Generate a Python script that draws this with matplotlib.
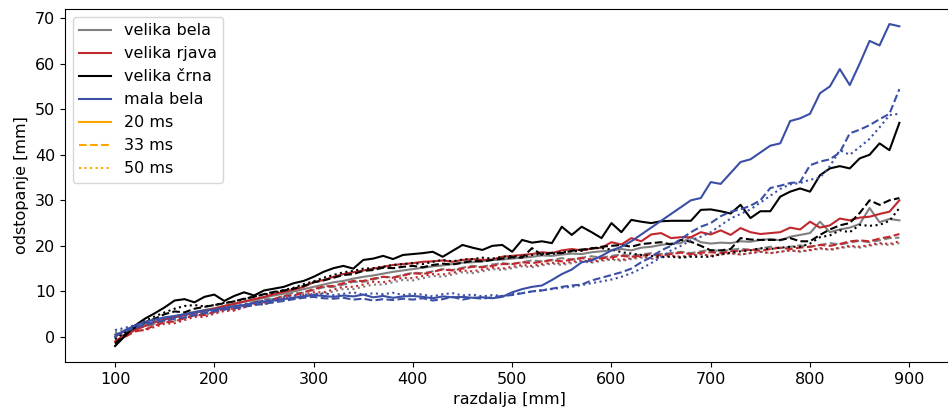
import matplotlib
matplotlib.use("Agg")
import matplotlib.pyplot as plt
from matplotlib.lines import Line2D

razdalja = list(range(100, 900, 10))

# velika bela (grey)
bela_20 = [0.5, 1.2, 2.0, 2.8, 3.4, 4.0, 4.5, 5.0, 5.5, 5.9,
           6.3, 6.8, 7.2, 7.7, 8.1, 8.6, 9.1, 9.5, 10.0, 10.5,
           11.0, 11.5, 12.0, 12.3, 12.8, 13.2, 13.5, 13.9, 14.3, 14.6,
           14.9, 15.2, 15.5, 15.7, 16.0, 16.3, 16.4, 16.6, 16.9, 17.0,
           17.2, 17.4, 17.6, 17.9, 17.8, 18.1, 18.3, 18.2, 18.6, 18.8,
           19.0, 19.3, 19.0, 19.6, 19.8, 20.2, 20.5, 20.6, 21.9, 20.8,
           20.5, 20.7, 20.6, 21.0, 20.9, 21.3, 21.5, 21.2, 22.0, 22.4,
           22.8, 25.3, 23.0, 23.6, 24.0, 24.8, 28.3, 25.2, 25.9, 25.6]
bela_33 = [0.2, 1.0, 1.6, 2.5, 2.7, 3.4, 4.1, 4.2, 4.8, 5.5,
           5.6, 6.2, 6.9, 6.9, 7.6, 8.3, 8.3, 9.0, 9.7, 9.7,
           10.3, 10.9, 11.0, 11.5, 12.1, 12.1, 12.6, 13.2, 13.1, 13.6,
           14.1, 14.0, 14.4, 14.9, 14.7, 15.2, 15.6, 15.4, 15.9, 16.2,
           16.0, 16.4, 16.8, 16.6, 16.9, 17.3, 17.0, 17.4, 17.7, 17.4,
           17.8, 18.1, 17.8, 18.1, 18.4, 18.2, 18.4, 18.7, 18.4, 18.8,
           19.1, 18.8, 19.1, 19.4, 19.1, 19.4, 19.8, 19.5, 19.8, 20.1,
           19.8, 20.2, 20.6, 20.3, 20.7, 21.1, 20.8, 21.2, 21.7, 21.8]
bela_50 = [1.0, 1.5, 2.2, 2.3, 2.9, 3.5, 3.6, 4.1, 4.7, 4.8,
           5.3, 5.9, 5.9, 6.5, 7.1, 7.1, 7.7, 8.3, 8.3, 8.9,
           9.4, 9.4, 10.0, 10.5, 10.5, 11.0, 11.5, 11.5, 12.0, 12.5,
           12.4, 12.9, 13.4, 13.2, 13.7, 14.2, 14.0, 14.4, 14.9, 14.7,
           15.1, 15.5, 15.3, 15.7, 16.1, 15.8, 16.2, 16.6, 16.3, 16.7,
           17.0, 16.7, 17.1, 17.4, 17.1, 17.4, 17.8, 17.5, 17.8, 18.1,
           17.8, 18.1, 18.4, 18.1, 18.4, 18.7, 18.4, 18.7, 19.0, 18.7,
           19.0, 19.4, 19.1, 19.5, 19.8, 19.6, 20.0, 20.4, 20.2, 20.6]

# velika rjava (red)
rjava_20 = [-1.0, 0.5, 1.5, 2.4, 3.2, 3.8, 4.3, 4.8, 5.3, 5.8,
            6.2, 6.8, 7.3, 7.8, 8.3, 8.8, 9.4, 9.9, 10.4, 11.0,
            12.0, 12.5, 13.2, 13.8, 14.2, 14.6, 15.0, 15.4, 15.8, 16.0,
            16.2, 16.5, 16.6, 16.8, 16.5, 16.9, 17.1, 16.9, 17.0, 17.6,
            17.8, 18.0, 18.2, 18.6, 18.4, 19.0, 19.3, 19.0, 19.4, 19.6,
            20.8, 20.3, 21.7, 21.0, 22.5, 22.8, 21.7, 21.9, 21.9, 23.0,
            22.5, 23.4, 22.4, 23.9, 23.0, 22.6, 22.8, 23.0, 24.0, 23.6,
            25.3, 24.0, 24.5, 26.0, 25.6, 26.2, 26.4, 27.0, 27.5, 30.0]
rjava_33 = [-1.0, 0.0, 1.2, 1.6, 2.5, 3.2, 3.4, 4.1, 4.8, 4.8,
            5.5, 6.2, 6.2, 6.9, 7.6, 7.6, 8.3, 9.0, 9.1, 9.8,
            10.5, 11.1, 11.2, 11.8, 12.3, 12.3, 12.8, 13.2, 13.0, 13.5,
            14.0, 13.8, 14.3, 14.8, 14.6, 15.0, 15.4, 15.3, 15.6, 16.0,
            16.0, 16.4, 16.2, 16.5, 16.9, 16.6, 17.0, 17.3, 17.0, 17.3,
            17.5, 17.8, 17.6, 17.8, 18.2, 17.9, 18.2, 18.5, 18.2, 18.5,
            18.6, 18.4, 18.8, 18.9, 19.2, 18.9, 19.3, 19.6, 19.3, 19.6,
            19.8, 20.2, 20.0, 20.4, 21.0, 21.2, 21.0, 21.6, 22.0, 22.6]
rjava_50 = [0.0, 0.6, 1.4, 1.5, 2.2, 2.9, 3.0, 3.7, 4.4, 4.4,
            5.1, 5.7, 5.8, 6.5, 7.2, 7.2, 7.9, 8.5, 8.6, 9.2,
            9.8, 9.8, 10.4, 11.0, 11.0, 11.5, 12.1, 12.0, 12.5, 13.0,
            12.9, 13.4, 13.8, 13.7, 14.1, 14.6, 14.4, 14.8, 15.2, 15.0,
            15.4, 15.8, 15.6, 16.0, 16.3, 16.1, 16.5, 16.8, 16.5, 16.9,
            17.2, 16.9, 17.3, 17.6, 17.3, 17.6, 17.9, 17.6, 17.9, 18.2,
            17.8, 18.1, 18.4, 18.1, 18.4, 18.7, 18.4, 18.7, 19.0, 18.8,
            19.1, 19.5, 19.2, 19.6, 20.0, 19.8, 20.2, 20.6, 20.4, 21.0]

# velika crna (black)
crna_20 = [-2.0, 0.2, 2.5, 4.0, 5.2, 6.5, 8.0, 8.3, 7.6, 8.8,
           9.3, 7.9, 9.0, 9.8, 9.1, 10.2, 10.6, 11.0, 11.8, 12.3,
           13.2, 14.3, 15.1, 15.6, 15.0, 16.9, 17.2, 17.8, 17.1, 18.0,
           18.2, 18.4, 18.7, 17.6, 18.9, 20.2, 19.6, 19.1, 20.0, 20.2,
           18.7, 21.3, 20.7, 21.0, 20.6, 24.2, 22.4, 24.2, 23.0, 21.7,
           25.0, 23.0, 25.7, 25.3, 25.0, 25.4, 25.5, 25.5, 25.5, 27.9,
           28.0, 27.6, 27.1, 29.0, 26.1, 27.6, 27.6, 30.8, 31.9, 32.6,
           31.9, 35.5, 37.0, 37.5, 37.0, 39.2, 40.0, 42.5, 41.0, 47.0]
crna_33 = [-1.5, 0.5, 2.0, 3.2, 4.0, 5.0, 5.6, 5.4, 6.2, 6.6,
           7.0, 7.4, 7.8, 8.4, 8.8, 9.4, 9.9, 10.2, 10.6, 11.2,
           12.0, 12.4, 13.0, 13.6, 13.8, 14.5, 14.7, 15.2, 15.1, 15.4,
           15.6, 15.3, 15.8, 16.1, 15.9, 16.3, 16.7, 16.6, 16.9, 17.2,
           17.5, 17.4, 19.5, 18.0, 18.5, 18.4, 18.9, 19.2, 19.4, 19.8,
           20.0, 20.2, 19.8, 20.4, 20.6, 20.8, 20.3, 21.3, 20.9, 20.0,
           19.0, 19.0, 19.3, 21.7, 21.4, 21.3, 21.3, 21.3, 21.7, 21.0,
           21.0, 22.4, 23.6, 24.5, 25.0, 27.2, 30.0, 29.0, 30.0, 30.5]
crna_50 = [-0.5, 1.0, 2.5, 3.5, 4.5, 5.4, 6.2, 6.8, 7.0, 6.7,
           7.0, 7.5, 7.8, 8.3, 8.9, 9.3, 9.7, 10.3, 10.8, 11.6,
           12.2, 13.0, 13.6, 14.2, 14.5, 15.0, 15.1, 15.4, 15.8, 16.0,
           16.2, 16.0, 16.5, 16.9, 16.6, 17.0, 17.1, 17.4, 17.2, 17.6,
           17.8, 17.6, 18.0, 18.3, 18.2, 18.6, 18.8, 18.9, 19.5, 19.5,
           19.2, 18.6, 18.3, 18.0, 17.8, 17.6, 17.6, 17.4, 17.6, 17.6,
           17.6, 18.2, 18.5, 18.8, 19.0, 19.5, 19.3, 19.6, 19.8, 19.8,
           20.5, 21.9, 22.3, 23.4, 23.0, 24.6, 24.4, 24.6, 25.5, 28.3]

# mala bela (blue)
mala_20 = [0.0, 1.5, 2.5, 3.3, 3.8, 4.3, 4.6, 5.0, 5.4, 5.8,
           6.0, 6.4, 6.7, 7.0, 7.4, 7.8, 8.0, 8.3, 8.6, 8.9,
           9.2, 9.0, 8.8, 9.1, 8.9, 9.3, 8.7, 9.0, 8.6, 8.9,
           9.0, 8.8, 8.5, 8.9, 8.7, 8.8, 8.6, 8.7, 8.5, 8.8,
           9.8, 10.5, 11.0, 11.3, 12.5, 13.8, 14.8, 16.4, 16.8, 17.8,
           19.0, 19.8, 21.0, 22.5, 24.0, 25.5, 27.0, 28.5, 30.0, 30.5,
           34.0, 33.6, 36.0, 38.4, 39.0, 40.5, 42.0, 42.5, 47.4, 48.0,
           49.0, 53.5, 55.0, 58.8, 55.3, 60.0, 65.0, 64.0, 68.7, 68.2]
mala_33 = [0.5, 1.2, 2.0, 2.6, 3.2, 3.6, 4.0, 4.3, 4.8, 5.2,
           5.6, 6.0, 6.3, 6.6, 7.0, 7.3, 7.6, 7.9, 8.3, 8.6,
           8.8, 8.5, 8.4, 8.6, 8.2, 8.4, 8.0, 8.3, 8.1, 8.4,
           8.2, 8.5, 8.0, 8.3, 8.8, 8.2, 8.6, 8.4, 8.7, 9.0,
           9.2, 9.6, 10.0, 10.2, 10.6, 11.0, 11.3, 11.5, 12.4, 13.0,
           13.6, 14.2, 15.0, 16.4, 17.5, 19.0, 20.0, 21.5, 23.0, 24.2,
           25.0, 26.5, 27.5, 28.0, 28.8, 30.0, 32.7, 33.2, 33.8, 34.0,
           37.7, 38.5, 39.0, 40.5, 44.7, 45.5, 46.5, 47.8, 49.0, 54.4]
mala_50 = [1.5, 2.0, 2.6, 3.0, 3.5, 4.0, 4.4, 4.8, 5.2, 5.6,
           6.0, 6.4, 6.8, 7.2, 7.6, 8.0, 8.3, 8.7, 9.0, 9.3,
           9.4, 9.6, 9.2, 9.5, 9.8, 9.3, 9.6, 9.4, 9.7, 9.2,
           9.5, 9.3, 8.9, 9.4, 9.6, 9.1, 9.3, 8.9, 9.2, 9.0,
           9.4, 9.6, 10.0, 10.3, 10.5, 10.8, 11.0, 11.4, 11.8, 12.2,
           12.6, 13.2, 14.0, 15.0, 16.2, 17.5, 19.0, 20.0, 21.2, 22.0,
           23.0, 24.5, 26.0, 27.0, 28.0, 29.5, 31.0, 32.5, 33.5, 33.8,
           34.5, 35.0, 37.5, 41.0, 40.0, 41.7, 43.5, 46.0, 48.7, 49.0]

objekti = ['velika bela', 'velika rjava', 'velika črna', 'mala bela']
barve = ['#808080', '#c0282d', 'black', '#3a4fa5']
casi = ['20 ms', '33 ms', '50 ms']
stili = ['-', '--', ':']
meritve = [[bela_20, bela_33, bela_50],
           [rjava_20, rjava_33, rjava_50],
           [crna_20, crna_33, crna_50],
           [mala_20, mala_33, mala_50]]

fig = plt.figure(figsize=(9.48, 4.15), dpi=100)
ax = fig.add_axes([65/948, 53/415, 888/948, 353/415])

for barva, serije in zip(barve, meritve):
    for stil, y in zip(stili, serije):
        ax.plot(razdalja, y, color=barva, linestyle=stil, linewidth=1.5)

ax.set_xlim(49.6, 944)
ax.set_ylim(-5.5, 72)
ax.set_xticks([100, 200, 300, 400, 500, 600, 700, 800, 900])
ax.tick_params(labelsize=11.5)
ax.set_xlabel('razdalja [mm]', fontsize=11.5)
ax.set_ylabel('odstopanje [mm]', fontsize=11.5)

handles = [Line2D([], [], color=b) for b in barve]
handles += [Line2D([], [], color='orange', linestyle=s) for s in stili]
ax.legend(handles, objekti + casi, loc='upper left', fontsize=11.5)

fig.savefig('out.png', dpi=100)
